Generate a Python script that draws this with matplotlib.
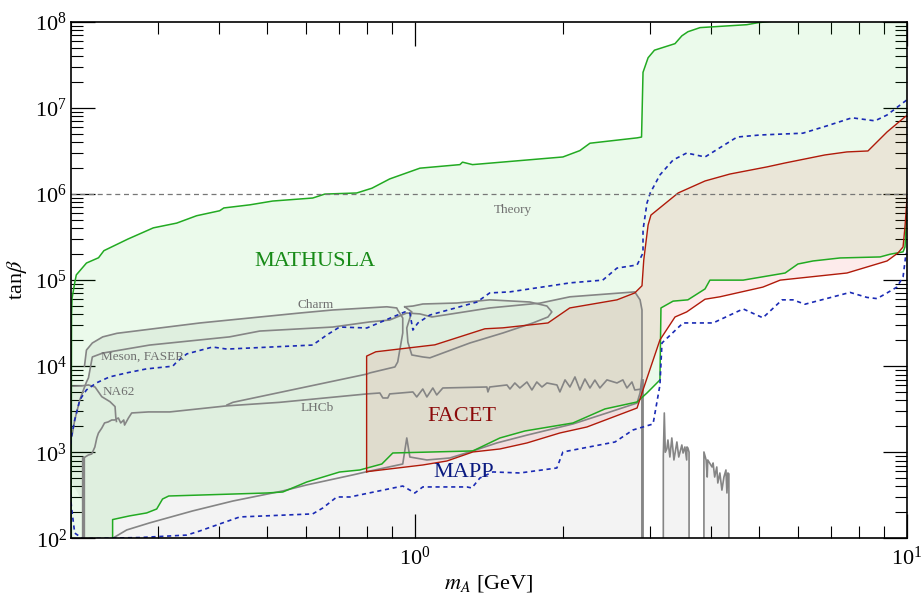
import numpy as np
import matplotlib
matplotlib.use("Agg")
import matplotlib.pyplot as plt
from matplotlib.ticker import NullFormatter, LogLocator

plt.rcParams['font.family'] = ['Liberation Serif', 'DejaVu Serif']
plt.rcParams['mathtext.fontset'] = 'stix'

# ---- data (m_A in GeV, tan beta) ----
mathusla_up_x = [0.2, 0.2005, 0.201, 0.2035, 0.205, 0.215, 0.2275, 0.2333, 0.261, 0.294, 0.328, 0.36,
                 0.401, 0.409, 0.462, 0.514, 0.62, 0.656, 0.762, 0.818, 0.889, 1.024, 1.235, 1.25, 1.31,
                 2.0, 2.165, 2.27, 2.83, 2.89, 2.91, 2.98, 3.07, 3.38, 3.49, 3.59, 3.8, 4.73, 4.98, 6.0, 10.5]
mathusla_up_y = [20, 4.0e4, 6.2e4, 9.3e4, 1.15e5, 1.58e5, 1.82e5, 2.2e5, 3.0e5, 4.05e5, 4.6e5, 5.6e5,
                 6.4e5, 6.9e5, 7.5e5, 8.3e5, 9.0e5, 1.0e6, 1.03e6, 1.17e6, 1.5e6, 2.0e6, 2.2e6, 2.35e6, 2.2e6,
                 2.7e6, 3.2e6, 3.9e6, 4.5e6, 4.6e6, 2.6e7, 3.84e7, 4.7e7, 5.6e7, 6.9e7, 7.7e7, 8.6e7, 9.3e7,
                 9.8e7, 1.1e8, 1.3e8]
mathusla_lo_x = [0.243, 0.243, 0.263, 0.285, 0.2987, 0.307, 0.316, 0.366, 0.5, 0.539, 0.603, 0.703, 0.773,
                 0.857, 0.902, 1.312, 1.489, 1.674, 2.096, 2.435, 2.83, 2.965, 3.15, 3.165, 3.35, 3.59, 3.89,
                 3.98, 4.65, 5.66, 6.01, 6.45, 7.32, 8.83, 9.25, 9.83, 9.92, 9.97, 10.5]
mathusla_lo_y = [20, 165, 182, 197, 219, 286, 310, 318, 336, 345, 451, 589, 622, 730, 980, 1035, 1464,
                 1766, 2187, 3185, 3837, 4886, 6920, 4.75e4, 5.7e4, 5.9e4, 7.9e4, 1.0e5, 1.0e5, 1.21e5,
                 1.54e5, 1.67e5, 1.81e5, 1.86e5, 2.0e5, 2.13e5, 2.43e5, 4.2e5, 1.3e8]

facet_up_x = [0.798, 0.798, 0.833, 1.098, 1.388, 1.51, 1.865, 2.065, 2.576, 2.80, 2.896, 2.92, 2.98, 3.02,
              3.43, 3.89, 4.37, 5.2, 5.66, 6.82, 7.56, 8.34, 9.12, 9.92, 10.3]
facet_up_y = [594, 1.31e4, 1.47e4, 1.77e4, 2.72e4, 2.79e4, 3.18e4, 4.75e4, 5.9e4, 7.1e4, 8.6e4, 1.71e5,
              4.37e5, 5.7e5, 1.03e6, 1.42e6, 1.71e6, 2.07e6, 2.3e6, 2.85e6, 3.09e6, 3.17e6, 5.27e6, 7.9e6, 9.0e6]
facet_lo_x = [0.798, 1.038, 1.162, 1.312, 1.489, 1.69, 1.972, 2.238, 2.83, 2.896, 3.15, 3.38, 3.57, 3.89,
              4.17, 5.1, 5.53, 7.56, 9.12, 9.6, 9.83, 9.92, 10.3]
facet_lo_y = [594, 711, 791, 1007, 1091, 1281, 1674, 1965, 3266, 4884, 2.02e4, 3.73e4, 4.27e4, 6.0e4,
              6.4e4, 8.3e4, 1.0e5, 1.21e5, 1.67e5, 2.07e5, 2.43e5, 4.2e5, 9.0e6]

mapp_up_x = [0.199, 0.2004, 0.2035, 0.2084, 0.215, 0.2253, 0.2395, 0.2593, 0.2847, 0.322, 0.328, 0.344,
             0.388, 0.415, 0.62, 0.662, 0.703, 0.799, 0.954, 0.977, 0.991, 1.014, 1.073, 1.337, 1.42, 1.56,
             2.07, 2.41, 2.576, 2.83, 2.91, 2.91, 2.965, 3.01, 3.15, 3.35, 3.57, 3.89, 4.52, 5.03, 6.15,
             6.88, 7.74, 8.62, 9.12, 10.0]
mapp_up_y = [1000, 1500, 2370, 4050, 5300, 6400, 7500, 8350, 9300, 1.0e4, 1.12e4, 1.39e4, 1.67e4, 1.58e4,
             1.76e4, 2.3e4, 2.85e4, 2.78e4, 4.27e4, 4.15e4, 2.63e4, 3.17e4, 3.93e4, 5.56e4, 7.1e4, 7.3e4,
             9.3e4, 1.0e5, 1.38e5, 1.5e5, 2.07e5, 3.83e5, 7.9e5, 1.03e6, 1.67e6, 2.49e6, 3.0e6, 2.7e6,
             4.6e6, 4.86e6, 5.1e6, 6.2e6, 7.7e6, 7.1e6, 8.3e6, 1.24e7]
mapp_lo_x = [0.199, 0.2004, 0.2035, 0.2113, 0.276, 0.344, 0.366, 0.396, 0.4406, 0.62, 0.65, 0.694, 0.738,
             0.945, 1.0, 1.038, 1.276, 1.306, 1.356, 1.441, 1.635, 1.944, 2.0, 2.552, 2.776, 3.05, 3.15,
             3.18, 3.51, 4.04, 4.65, 5.1, 5.58, 5.87, 6.21, 7.67, 8.3, 8.7, 9.12, 9.55, 9.83, 9.97]
mapp_lo_y = [400, 231, 115, 99, 102, 109, 122, 143, 177, 192, 225, 302, 302, 405, 336, 395, 395, 384, 502,
             590, 574, 656, 1007, 1315, 1814, 2130, 6050, 1.86e4, 3.18e4, 3.18e4, 4.63e4, 3.65e4, 5.9e4,
             5.9e4, 5.25e4, 7.2e4, 6.3e4, 6.1e4, 7.1e4, 8.3e4, 1.09e5, 2.07e5]

lhcb_x = [0.212, 0.212, 0.217, 0.2204, 0.2236, 0.2257, 0.2274, 0.231, 0.234, 0.238, 0.242, 0.2455, 0.2496,
          0.2524, 0.256, 0.257, 0.2617, 0.2657, 0.2873, 0.3175, 0.415, 0.531, 0.799, 0.849, 0.861, 0.881,
          0.889, 0.991, 1.009, 1.038, 1.058, 1.088, 1.108, 1.14, 1.401, 1.408, 1.42, 1.539, 1.561, 1.597,
          1.635, 1.69, 1.73, 1.77, 1.813, 1.856, 1.945, 1.972, 2.02, 2.067, 2.116, 2.166, 2.217, 2.27,
          2.323, 2.378, 2.458, 2.576, 2.648, 2.699, 2.763, 2.80, 2.896, 2.90, 2.90]
lhcb_y = [20, 857, 929, 955, 1150, 1470, 1670, 1910, 2190, 2250, 2370, 2370, 2500, 2190, 2370, 2070,
          2500, 2860, 2940, 2940, 3460, 3800, 4760, 4880, 4270, 4270, 4760, 5020, 4390, 5430, 4390, 5580,
          4630, 5580, 5730, 5020, 5730, 6050, 5430, 6380, 5580, 6550, 5290, 6550, 5730, 6380, 6050, 5020,
          6930, 5730, 7500, 5290, 7100, 5580, 6900, 5580, 6930, 6380, 6930, 5580, 6550, 5290, 5430, 6930, 20]
lhcb_b_x = [3.2, 3.2, 3.215, 3.23, 3.254, 3.27, 3.3, 3.33, 3.363, 3.41, 3.44, 3.49, 3.51, 3.54, 3.57,
            3.575, 3.59, 3.61, 3.61]
lhcb_b_y = [20, 900, 2860, 1000, 1100, 1388, 880, 1465, 813, 1316, 880, 1214, 979, 1151, 813, 1151,
            1120, 1000, 20]
lhcb_c_x = [3.87, 3.87, 3.91, 3.93, 3.94, 4.02, 4.04, 4.07, 4.11, 4.13, 4.17, 4.21, 4.25, 4.29, 4.31,
            4.33, 4.35, 4.35]
lhcb_c_y = [20, 1007, 813, 515, 813, 674, 750, 515, 674, 439, 574, 363, 515, 622, 336, 574, 560, 20]

meson_x = [0.19, 0.2, 0.201, 0.2035, 0.2084, 0.212, 0.215, 0.217, 0.221, 0.232, 0.289, 0.42, 0.484,
           0.681, 0.81, 0.889, 0.963, 1.024, 1.083, 1.42, 1.795, 2.067, 2.80, 2.87, 2.896, 2.896, 2.87,
           2.83, 2.458, 2.096, 1.69, 1.468, 1.312, 1.178, 1.058, 0.977, 0.963, 0.945, 0.799, 0.748, 0.603,
           0.539, 0.4266, 0.3535, 0.289, 0.2596, 0.243, 0.235]
meson_y = [800, 1500, 1580, 2370, 4050, 5290, 6550, 7300, 1.28e4, 1.42e4, 1.76e4, 2.19e4, 2.56e4,
           2.85e4, 3.27e4, 3.44e4, 4.15e4, 4.05e4, 3.73e4, 4.75e4, 5.4e4, 6.4e4, 7.3e4, 5.9e4, 4.5e4,
           7500, 4880, 3730, 2860, 2130, 1580, 1282, 1035, 857, 813, 880, 1465, 730, 594, 545, 417, 355,
           271, 208, 151, 125, 100, 85]

charm_x = [0.213, 0.215, 0.221, 0.232, 0.248, 0.366, 0.584, 0.681, 0.877, 0.919, 0.923, 0.945, 0.945,
           0.936, 0.923, 0.911, 0.81, 0.799, 0.4266, 0.415]
charm_y = [1.0e4, 1.54e4, 1.86e4, 2.19e4, 2.41e4, 3.18e4, 4.15e4, 4.5e4, 4.9e4, 4.75e4, 4.5e4, 3.63e4,
           2.43e4, 1.77e4, 1.12e4, 9.8e3, 8.35e3, 8.1e3, 3.8e3, 3.54e3]

ellipse_x = [0.954, 0.991, 1.038, 1.217, 1.42, 1.713, 1.856, 1.899, 1.865, 1.738, 1.51, 1.294, 1.073,
             1.038, 0.986, 0.968, 0.963, 0.986, 0.954]
ellipse_y = [4.9e4, 5.0e4, 5.28e4, 5.42e4, 5.9e4, 5.57e4, 5.0e4, 4.27e4, 3.73e4, 3.18e4, 2.43e4, 1.86e4,
             1.25e4, 1.28e4, 1.35e4, 1.9e4, 2.78e4, 4.27e4, 4.9e4]

na62_x = [0.19, 0.2103, 0.217, 0.2238, 0.231, 0.24, 0.2458, 0.2466, 0.2474]
na62_y = [5.8e3, 5.9e3, 6.05e3, 5.73e3, 4.42e3, 3.87e3, 3.39e3, 2.59e3, 2.28e3]

theory_y = 1e6

GRAY = '#858585'
GRAYFILL = '#f3f3f3'
GREEN = '#22aa22'
RED = '#b01a0a'
BLUE = '#1a2ab5'

fig = plt.figure(figsize=(9.21, 5.94), dpi=100)
ax = fig.add_axes([0.0771, 0.0938, 0.9074, 0.8692])
ax.set_xscale('log')
ax.set_yscale('log')

# existing bounds: opaque light gray, drawn first so overlaps don't stack
for xs, ys in [(lhcb_x, lhcb_y), (lhcb_b_x, lhcb_b_y), (lhcb_c_x, lhcb_c_y), (meson_x, meson_y),
               (charm_x, charm_y), (ellipse_x, ellipse_y)]:
    ax.fill(xs, ys, color=GRAYFILL, lw=0, zorder=1)
na_fill_x = na62_x + lhcb_x[3:0:-1] + [0.19]
na_fill_y = na62_y + lhcb_y[3:0:-1] + [800]
ax.fill(na_fill_x, na_fill_y, color=GRAYFILL, lw=0, zorder=1)

# MATHUSLA
ax.fill(mathusla_up_x + mathusla_lo_x[::-1], mathusla_up_y + mathusla_lo_y[::-1],
        color=(0.0, 0.78, 0.0), alpha=0.08, lw=0, zorder=2)
ax.plot(mathusla_up_x, mathusla_up_y, color=GREEN, lw=1.1, zorder=5)
ax.plot(mathusla_lo_x, mathusla_lo_y, color=GREEN, lw=1.1, zorder=5)

# FACET
ax.fill(facet_up_x + facet_lo_x[::-1], facet_up_y + facet_lo_y[::-1],
        color=(0.9, 0.0, 0.0), alpha=0.08, lw=0, zorder=3)
ax.plot(facet_up_x + facet_lo_x[::-1], facet_up_y + facet_lo_y[::-1], color=RED, lw=1.0, zorder=5)

# gray outlines
for xs, ys in [(lhcb_x, lhcb_y), (lhcb_b_x, lhcb_b_y), (lhcb_c_x, lhcb_c_y), (meson_x, meson_y),
               (charm_x, charm_y), (ellipse_x, ellipse_y), (na62_x, na62_y)]:
    ax.plot(xs, ys, color=GRAY, lw=1.2, zorder=4)
ax.plot(lhcb_x[:2], lhcb_y[:2], color=GRAY, lw=2.4, zorder=4)
ax.plot(lhcb_x[-2:], lhcb_y[-2:], color=GRAY, lw=2.0, zorder=4)

# MAPP
ax.plot(mapp_up_x, mapp_up_y, color=BLUE, lw=1.2, ls=(0, (2.5, 2.2)), zorder=6)
ax.plot(mapp_lo_x, mapp_lo_y, color=BLUE, lw=1.2, ls=(0, (2.5, 2.2)), zorder=6)

ax.axhline(theory_y, color='#777777', lw=0.9, ls=(0, (4, 3)), zorder=6)

# labels
ax.text(0.626, 1.63e5, 'MATHUSLA', color='#178a17', fontsize=16, ha='center', va='center', zorder=7)
ax.text(1.249, 2.57e3, 'FACET', color='#8b0a0a', fontsize=16, ha='center', va='center', zorder=7)
ax.text(1.258, 574, 'MAPP', color='#0a1a80', fontsize=16, ha='center', va='center', zorder=7)
ax.text(0.629, 5.15e4, 'Charm', color='#707070', fontsize=9.5, ha='center', va='center', zorder=7)
ax.text(0.2306, 1.29e4, 'Meson, FASER', color='#707070', fontsize=9.5, ha='left', va='center', zorder=7)
ax.text(0.232, 5.05e3, 'NA62', color='#707070', fontsize=9.5, ha='left', va='center', zorder=7)
ax.text(0.632, 3.27e3, 'LHCb', color='#707070', fontsize=9.5, ha='center', va='center', zorder=7)
ax.text(1.582, 6.54e5, 'Theory', color='#707070', fontsize=9.5, ha='center', va='center', zorder=7)

ax.set_xlim(0.2, 10)
ax.set_ylim(1e2, 1e8)
ax.xaxis.set_major_locator(LogLocator(base=10, numticks=10))
ax.yaxis.set_major_locator(LogLocator(base=10, numticks=10))
ax.xaxis.set_minor_locator(LogLocator(base=10, subs=np.arange(2, 10), numticks=20))
ax.yaxis.set_minor_locator(LogLocator(base=10, subs=np.arange(2, 10), numticks=20))
ax.xaxis.set_minor_formatter(NullFormatter())
ax.yaxis.set_minor_formatter(NullFormatter())
ax.tick_params(which='major', direction='in', length=17.5, width=0.9, top=True, right=True,
               labelsize=16, pad=6)
ax.tick_params(which='minor', direction='in', length=8.8, width=0.8, top=True, right=True)
ax.tick_params(axis='y', which='major', pad=3)
for s in ax.spines.values():
    s.set_linewidth(1.2)
    s.set_zorder(10)

ax.set_xlabel(r'$m_A$ [GeV]', fontsize=16, labelpad=2)
ax.set_ylabel(r'tan$\beta$', fontsize=16, labelpad=4)

fig.savefig('out.png', dpi=100)
